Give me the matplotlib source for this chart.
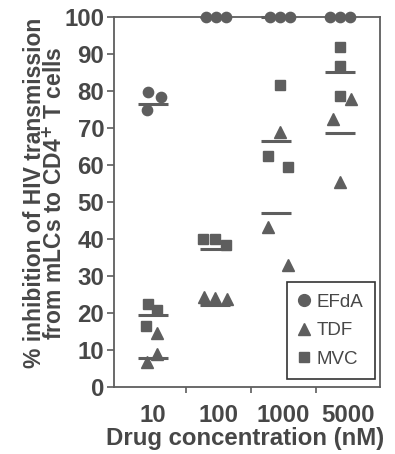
import matplotlib
matplotlib.use('Agg')
import matplotlib.pyplot as plt
from matplotlib.lines import Line2D

plt.rcParams['font.family'] = ['Liberation Sans', 'DejaVu Sans']

# data (% inhibition, three donors per drug)
concentrations = ['10', '100', '1000', '5000']
efda = [[79.6, 78.5, 74.9], [100, 100, 100], [100, 100, 100], [100, 100, 100]]
tdf = [[14.5, 8.9, 6.7], [24.4, 24.0, 23.8], [69.0, 43.2, 33.0], [77.8, 72.4, 55.3]]
mvc = [[22.4, 20.8, 16.6], [40.0, 40.0, 38.4], [81.6, 62.4, 59.4], [92.0, 86.8, 78.7]]
efda_mean = [76.4, 100, 100, 100]
tdf_mean = [7.9, 22.2, 47.1, 68.6]
mvc_mean = [19.5, 37.2, 66.6, 85.2]

# horizontal scatter of the points inside each group
efda_dx = [[-0.07, 0.12, -0.10], [-0.18, -0.03, 0.12], [-0.20, -0.05, 0.11], [-0.28, -0.12, 0.03]]
tdf_dx = [[0.06, 0.06, -0.10], [-0.22, -0.04, 0.13], [-0.05, -0.23, 0.07], [0.05, -0.23, -0.12]]
mvc_dx = [[-0.08, 0.06, -0.11], [-0.23, -0.05, 0.12], [-0.05, -0.23, 0.07], [-0.12, -0.12, -0.12]]
mean_dx = [0.0, -0.05, -0.11, -0.13]
half_w = 0.23

grey = '#5e5e5e'
txt = '#474747'

fig = plt.figure(figsize=(3.95, 4.54), dpi=100)
ax = fig.add_axes([114 / 395, 1 - 387 / 454, 266 / 395, 370 / 454])


def scatter(vals, dxs, marker, ms):
    for i in range(len(vals)):
        xs = [i + d for d in dxs[i]]
        ax.plot(xs, vals[i], linestyle='none', marker=marker, ms=ms, color=grey,
                mec=grey, clip_on=False, zorder=3)


scatter(efda, efda_dx, 'o', 7.4)
scatter(tdf, tdf_dx, '^', 8.0)
scatter(mvc, mvc_dx, 's', 6.8)

for means in (efda_mean, tdf_mean, mvc_mean):
    for i, m in enumerate(means):
        c = i + mean_dx[i]
        ax.plot([c - half_w, c + half_w], [m, m], color=grey, lw=2.2,
                solid_capstyle='butt', clip_on=False, zorder=2)

ax.set_xlim(-0.6, 3.49)
ax.set_ylim(0, 100)
ax.set_yticks(range(0, 101, 10))
ax.set_xticks(range(len(concentrations)))
ax.set_xticklabels(concentrations)
ax.set_xticks([0.5, 1.5, 2.5], minor=True)
ax.tick_params(axis='x', which='major', length=0, pad=12)
ax.tick_params(axis='x', which='minor', length=4, width=1.2, color=grey, direction='out')
ax.tick_params(axis='y', length=5, width=1.2, color=grey, direction='out', pad=2)
for lab in ax.get_xticklabels() + ax.get_yticklabels():
    lab.set_fontsize(17.3)
    lab.set_fontweight('bold')
    lab.set_color(txt)
for s in ax.spines.values():
    s.set_color(grey)
    s.set_linewidth(1.3)

fig.text(0.62, 0.035, 'Drug concentration (nM)', ha='center', va='center',
         fontsize=17.3, fontweight='bold', color=txt)
fig.text(45 / 395, 0.575, '% inhibition of HIV transmission\nfrom mLCs to CD4$^{\\mathbf{+}}$ T cells',
         rotation=90, ha='center', va='center', fontsize=16.5, fontweight='bold',
         color=txt, linespacing=0.85, multialignment='center')

handles = [Line2D([], [], linestyle='none', marker='o', ms=8.5, color=grey),
           Line2D([], [], linestyle='none', marker='^', ms=8.5, color=grey),
           Line2D([], [], linestyle='none', marker='s', ms=7.5, color=grey)]
leg = ax.legend(handles, ['EFdA', 'TDF', 'MVC'], loc='lower right', fancybox=False,
                framealpha=1, edgecolor='#333333', fontsize=13.5, handlelength=0.7,
                handletextpad=0.3, labelspacing=0.6, borderpad=0.6,
                borderaxespad=0, bbox_to_anchor=(0.98, 0.022))
leg.get_frame().set_linewidth(1.2)
for t in leg.get_texts():
    t.set_color(txt)

fig.savefig('out.png', dpi=100)
